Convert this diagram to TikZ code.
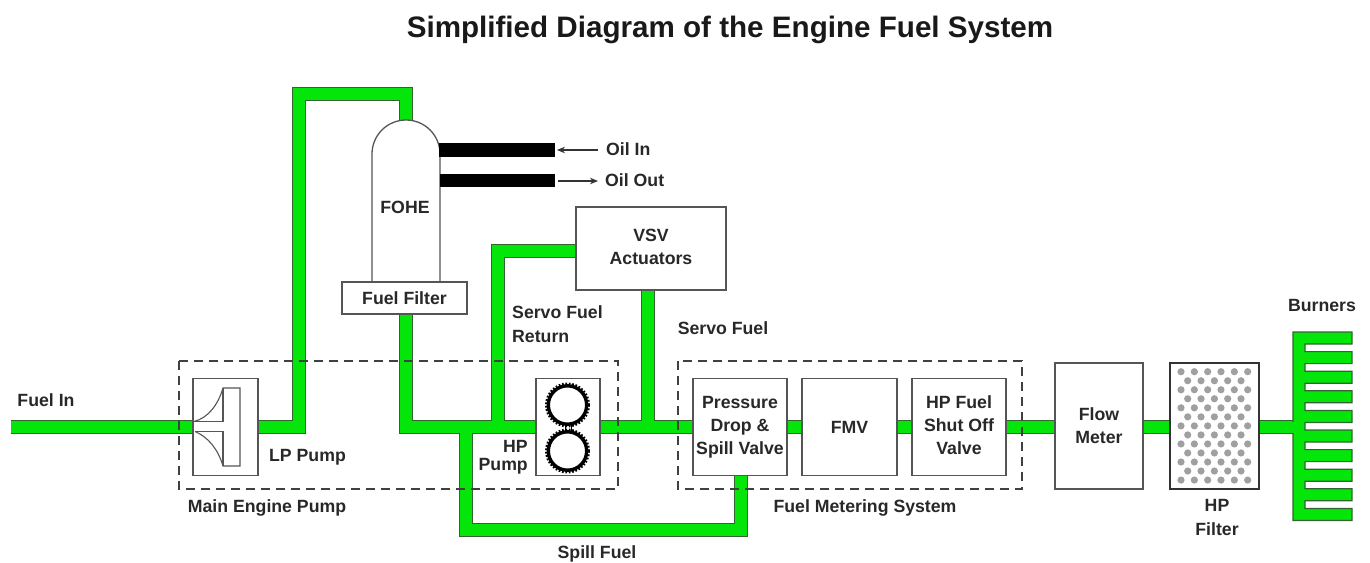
\documentclass[tikz,border=0pt]{standalone}
\usepackage{fontspec}
\setmainfont{Liberation Sans}
\usetikzlibrary{backgrounds,arrows.meta}

\definecolor{fuelgreen}{RGB}{4,230,10}
\definecolor{pipeedge}{RGB}{50,100,50}
\definecolor{boxedge}{RGB}{85,85,85}
\definecolor{labelgrey}{RGB}{40,40,40}
\definecolor{dotgrey}{RGB}{160,160,160}

\tikzset{
  unitbox/.style={draw=boxedge, line width=1.3pt, fill=white, inner sep=0pt, align=center, text=labelgrey,
                  font=\fontsize{17.7}{23}\bfseries\selectfont},
  tag/.style={inner sep=0pt, align=left, text=labelgrey, font=\fontsize{17.7}{24}\bfseries\selectfont},
  groupbox/.style={draw=black!75, line width=1.1pt, dash pattern=on 9pt off 6pt},
  pipeline/.style={draw=pipeedge, line width=13.2pt, line cap=butt, line join=miter},
  pipecore/.style={draw=fuelgreen, line width=11.6pt, line cap=butt, line join=miter},
  oilpipe/.style={draw=black, line width=13.5pt},
  thinarrow/.style={draw=black!80, line width=1.2pt, -{Stealth[length=8pt,width=6.5pt]}},
}

% all fuel lines, drawn twice: edge first, then the green core
\newcommand{\fuelpaths}{
  (fuelin) -- (lppump.west)
  (lppump.east) -- (lpriser) -- (lptop) -- (lpdrop) -- (fohetop)
  (filter.south -| filtercorner) -- (filtercorner) -- (hppump.west)
  (spilltee) -- (spillcorner) -- (spillup) -- (pdvalve.south -| spillup)
  (returntee) -- (returntop) -- (returntop -| vsv.west)
  (servotee) -- (servotee |- vsv.south)
  (hppump.east) -- (pdvalve.west)
  (pdvalve.east) -- (fmv.west)
  (fmv.east) -- (hpvalve.west)
  (hpvalve.east) -- (hpvalve.east -| flowmeter.west)
  (flowmeter.east |- hpvalve.east) -- (hpfilter.west |- hpvalve.east)
  (hpfilter.east |- hpvalve.east) -- (burnerin)
}

\begin{document}
\begin{tikzpicture}[x=1pt, y=-1pt]
  \useasboundingbox (0,0) rectangle (1370,562);

  %% dashed groups
  \draw[groupbox] (179,361) rectangle (618,489);
  \draw[groupbox] (678,361) rectangle (1022,489);

  %% units
  \node[unitbox, minimum width=65, minimum height=97] (lppump) at (225.5,427) {};
  \node[unitbox, minimum width=64, minimum height=97] (hppump) at (568,427) {};
  \node[unitbox, minimum width=150, minimum height=83] (vsv) at (651,248.5) {VSV\\Actuators\vphantom{p}};
  \node[unitbox, minimum width=94, minimum height=97] (pdvalve) at (740,427) {Pressure\\Drop \&\\Spill Valve};
  \node[unitbox, minimum width=95, minimum height=97] (fmv) at (849.5,427) {FMV};
  \node[unitbox, minimum width=94, minimum height=97] (hpvalve) at (959,427) {HP Fuel\\Shut Off\\Valve\vphantom{p}};
  \node[unitbox, minimum width=88, minimum height=126] (flowmeter) at (1099,426) {Flow\\Meter};
  \node[unitbox, draw=black!80, line width=1.6pt, minimum width=89, minimum height=126] (hpfilter) at (1214.5,426) {};

  %% FOHE with its filter
  \draw[unitbox] (372,282) -- (372,154) .. controls (372,135.2) and (387.2,120) .. (406,120)
    .. controls (424.8,120) and (440,135.2) .. (440,154) -- (440,282) -- cycle;
  \node[tag] (fohe) at (405,207) {FOHE};
  \node[unitbox, minimum width=125, minimum height=32] (filter) at (404.5,298) {Fuel Filter};

  %% helper points for the pipes
  \coordinate (fuelin) at (11,427);
  \coordinate (lpriser) at (299,427);
  \coordinate (lptop) at (299,94);
  \coordinate (lpdrop) at (406,94);
  \coordinate (fohetop) at (406,121);
  \coordinate (filtercorner) at (406,427);
  \coordinate (spilltee) at (466,427);
  \coordinate (spillcorner) at (466,530);
  \coordinate (spillup) at (741,530);
  \coordinate (returntee) at (498,427);
  \coordinate (returntop) at (498,251);
  \coordinate (servotee) at (648,427);
  \coordinate (burnerin) at (1294,427);

  \begin{scope}[on background layer]
    \draw[pipeline] \fuelpaths;
    \draw[pipecore] \fuelpaths;
  \end{scope}

  %% burners
  \draw[pipeline, fill=fuelgreen, line width=1.2pt] (1293,332)
    foreach \by in {332,351.6,371.2,390.8,410.4,430,449.6,469.2,488.8} {
      -- (1352,\by) -- (1352,\by+12) -- (1305,\by+12) -- (1305,\by+19.6)
    } -- (1352,508.4) -- (1352,520.4) -- (1293,520.4) -- cycle;
  \fill[fuelgreen] (1290,421.5) rectangle (1296,432.5);

  %% LP pump impeller
  \draw[draw=boxedge, line width=1.1pt] (194,421.5) .. controls (208,418) and (218,405) .. (223,388)
    -- (240,388) -- (240,466) -- (223,466) .. controls (218,449) and (208,437) .. (195,431.5);
  \draw[draw=boxedge, line width=1.1pt] (194,421.5) -- (223,421.5) -- (223,388);
  \draw[draw=boxedge, line width=1.1pt] (195,431.5) -- (223,431.5) -- (223,466);

  %% HP pump gears
  \draw[line width=1pt] (565,425) -- (565,432) (571,425) -- (571,432);
  \foreach \gy in {405,451} {
    \draw[line width=3.4pt] (567.5,\gy) circle (19.2);
    \draw[line width=2.2pt, dash pattern=on 1.7pt off 1.7pt] (567.5,\gy) circle (21.4);
  }

  %% HP filter dots
  \foreach \row in {0,2,...,12} {
    \foreach \col in {0,...,5} {
      \fill[dotgrey] (1181+13.33*\col,371.7+9.03*\row) circle (3.6);
    }
  }
  \foreach \row in {1,3,...,11} {
    \foreach \col in {0,...,4} {
      \fill[dotgrey] (1187.7+13.33*\col,371.7+9.03*\row) circle (3.6);
    }
  }

  %% oil lines
  \coordinate (oilinend) at (555,150);
  \coordinate (oiloutend) at (555,180.5);
  \node[tag, anchor=west] (oilin) at (606,149) {Oil In};
  \node[tag, anchor=west] (oilout) at (605,180) {Oil Out};
  \draw[oilpipe] (439,150) -- (oilinend);
  \draw[oilpipe] (440,180.5) -- (oiloutend);
  \draw[thinarrow] (598,150) -- (557,150);
  \draw[thinarrow] (558,181) -- (598,181);

  %% labels
  \node[font=\fontsize{29.6}{34}\bfseries\selectfont, text=black!90, inner sep=0pt] (title) at (730,30) {Simplified Diagram of the Engine Fuel System};
  \node[tag] (fuelinlabel) at (46,400) {Fuel In};
  \node[tag] (lppumplabel) at (307.5,457.5) {LP Pump};
  \node[tag, align=right, font=\fontsize{17.7}{18}\bfseries\selectfont, anchor=east] (hppumplabel) at (528,457.5) {HP\\Pump};
  \node[tag] (mainpumplabel) at (267,508) {Main Engine Pump};
  \node[tag, anchor=west] (returnlabel) at (512,324) {Servo Fuel\\Return};
  \node[tag] (servolabel) at (723,328) {Servo Fuel};
  \node[tag] (meteringlabel) at (865,508) {Fuel Metering System};
  \node[tag] (spilllabel) at (597,553.5) {Spill Fuel};
  \node[tag, align=center] (hpfilterlabel) at (1217,517) {HP\\Filter};
  \node[tag] (burnerslabel) at (1322,305) {Burners};
\end{tikzpicture}
\end{document}
